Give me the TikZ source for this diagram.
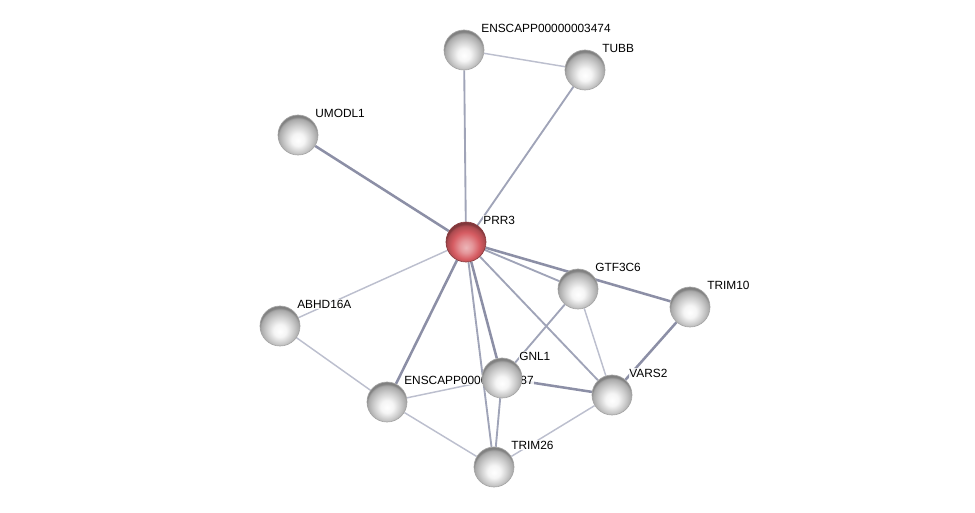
\documentclass[tikz,border=0pt]{standalone}
\usepackage{fontspec}
\setmainfont{Liberation Sans}
\usetikzlibrary{backgrounds}
\definecolor{edgedark}{RGB}{140,143,166}
\definecolor{edgemid}{RGB}{160,164,184}
\definecolor{edgelight}{RGB}{188,191,206}
\definecolor{prrred}{RGB}{214,92,98}

% sphere look of the protein nodes
\pgfdeclareradialshading{greysphere}{\pgfpoint{0bp}{-7bp}}{color(0bp)=(white); color(8bp)=(white!96!black);
	color(17bp)=(white!80!black); color(24bp)=(white!66!black); color(26bp)=(white!50!black); color(50bp)=(white!50!black)}
\pgfdeclareradialshading{redsphere}{\pgfpoint{0bp}{-7bp}}{color(0bp)=(prrred!45!white); color(8bp)=(prrred!65!white);
	color(17bp)=(prrred); color(24bp)=(prrred!80!black); color(26bp)=(prrred!60!black); color(50bp)=(prrred!60!black)}

\tikzset{
	protein/.style={circle,minimum size=30pt,inner sep=0pt,draw=gray!70,line width=.5pt,
		shading=greysphere,
		label={[lbl]45:#1}},
	query/.style={protein=#1,shading=redsphere,draw=prrred!65!black},
	lbl/.style={inner sep=.6pt,label distance=2pt,fill=white,fill opacity=.85,text opacity=1,
		font=\fontsize{8.9}{10}\selectfont},
	heavy/.style={edgedark,line width=1.9pt},
	medium/.style={edgemid,line width=1.4pt},
	light/.style={edgelight,line width=1.1pt}
}

\begin{document}
\begin{tikzpicture}[x=.75pt,y=-.75pt]
	\useasboundingbox (0,0) rectangle (975,513);
	
	% draw nodes
	\node[protein=ENSCAPP00000003474] (ens3474) at (464,50) {};
	\node[protein=TUBB] (tubb) at (585,70) {};
	\node[protein=UMODL1] (umodl1) at (298,135) {};
	\node[query=PRR3] (prr3) at (466,242) {};
	\node[protein=GTF3C6] (gtf3c6) at (578,289) {};
	\node[protein=TRIM10] (trim10) at (690,307) {};
	\node[protein=ABHD16A] (abhd16a) at (280,326) {};
	\node[protein=ENSCAPP00000009987] (ens9987) at (387,402) {};
	\node[protein=GNL1] (gnl1) at (502,378) {};
	\node[protein=VARS2] (vars2) at (612,395) {};
	\node[protein=TRIM26] (trim26) at (494,467) {};
	
	% draw edges
	\begin{scope}[on background layer]
		\draw[light] (ens3474) -- (tubb);
		\draw[medium] (prr3) -- (ens3474);
		\draw[medium] (prr3) -- (tubb);
		\draw[heavy] (prr3) -- (umodl1);
		\draw[heavy] (prr3) -- (trim10);
		\draw[medium] (prr3) -- (gtf3c6);
		\draw[light] (prr3) -- (abhd16a);
		\draw[heavy] (prr3) -- (ens9987);
		\draw[heavy] (prr3) -- (gnl1);
		\draw[medium] (prr3) -- (trim26);
		\draw[medium] (prr3) -- (vars2);
		\draw[medium] (gtf3c6) -- (gnl1);
		\draw[light] (gtf3c6) -- (vars2);
		\draw[heavy] (trim10) -- (vars2);
		\draw[light] (abhd16a) -- (ens9987);
		\draw[light] (ens9987) -- (gnl1);
		\draw[light] (ens9987) -- (trim26);
		\draw[heavy] (gnl1) -- (vars2);
		\draw[medium] (gnl1) -- (trim26);
		\draw[light] (vars2) -- (trim26);
	\end{scope}
\end{tikzpicture}
\end{document}
